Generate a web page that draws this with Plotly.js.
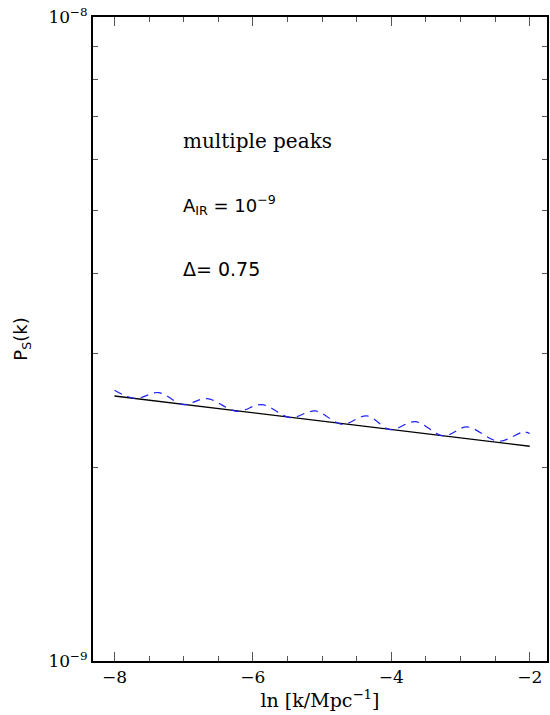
<!DOCTYPE html>
<html>
<head>
<meta charset="utf-8">
<script src="https://cdn.plot.ly/plotly-3.0.1.min.js"></script>
<style>html,body{margin:0;padding:0;background:#fff;}#chart{width:550px;height:715px;}</style>
</head>
<body>
<div id="chart"></div>
<script>
// Smooth power-law spectrum (solid black)
const lnkSmooth = [-8.0, -2.0];
const psSmooth = [2.579e-9, 2.155e-9];

// Spectrum with multiple peaks (dashed blue), read at peaks and dips
const lnkPeaks = [-8.0, -7.70, -7.364, -7.003, -6.664, -6.230, -5.869, -5.460, -5.098,
                  -4.712, -4.351, -4.014, -3.653, -3.244, -2.905, -2.448, -2.087, -2.0];
const psPeaks = [2.632e-9, 2.556e-9, 2.611e-9, 2.501e-9, 2.556e-9, 2.442e-9, 2.501e-9, 2.388e-9, 2.445e-9,
                 2.331e-9, 2.402e-9, 2.287e-9, 2.353e-9, 2.236e-9, 2.309e-9, 2.194e-9, 2.268e-9, 2.255e-9];

// Y tick positions and labels
const yTickVals = [1e-9, 2e-9, 3e-9, 4e-9, 5e-9, 6e-9, 7e-9, 8e-9, 9e-9, 1e-8];
const yTickText = ['10<sup>\u22129</sup>', '', '', '', '', '', '', '', '', '10<sup>\u22128</sup>'];

// Annotation texts
const labelLines = ['multiple peaks', 'A<sub>IR</sub>\u00a0=\u00a010<sup>\u22129</sup>', '\u0394=\u00a00.75'];

const serif = 'DejaVu Serif, Liberation Serif, serif';
const sans = 'DejaVu Sans, Liberation Sans, sans-serif';

const traces = [
  {x: lnkSmooth, y: psSmooth, mode: 'lines', line: {color: '#000000', width: 1.4}, hoverinfo: 'skip'},
  {x: lnkPeaks, y: psPeaks, mode: 'lines', line: {color: '#2020ff', width: 1.2, dash: '8px,6px', shape: 'spline', smoothing: 1}, hoverinfo: 'skip'}
];

const layout = {
  width: 550, height: 715,
  margin: {l: 93, r: 3, t: 17, b: 54},
  paper_bgcolor: '#ffffff', plot_bgcolor: '#ffffff',
  showlegend: false,
  font: {family: serif, size: 17, color: '#000'},
  xaxis: {
    range: [-8.31, -1.75],
    tickvals: [-8, -6, -4, -2],
    ticktext: ['\u22128', '\u22126', '\u22124', '\u22122'],
    ticks: 'inside', ticklen: 9, tickwidth: 1, tickcolor: '#555',
    minor: {dtick: 0.5, tick0: 0, ticks: 'inside', ticklen: 5, tickwidth: 1, tickcolor: '#555'},
    showline: true, linecolor: '#000', linewidth: 2, mirror: 'ticks',
    showgrid: false, zeroline: false,
    tickfont: {family: serif, size: 17},
    title: {text: 'ln [k/Mpc<sup>\u22121</sup>]', font: {family: serif, size: 19}, standoff: 7}
  },
  yaxis: {
    type: 'log',
    range: [-9, -8],
    tickvals: yTickVals, ticktext: yTickText,
    ticks: 'inside', ticklen: 5, tickwidth: 1, tickcolor: '#555',
    showline: true, linecolor: '#000', linewidth: 2, mirror: 'ticks',
    showgrid: false, zeroline: false,
    tickfont: {family: serif, size: 17},
    title: {text: 'P<sub>S</sub>(k)', font: {family: sans, size: 18}, standoff: 16}
  },
  annotations: [
    {xref: 'x', yref: 'paper', x: -7.04, y: 0.807, xanchor: 'left', yanchor: 'middle', showarrow: false,
     text: labelLines[0], font: {family: serif, size: 20}},
    {xref: 'x', yref: 'paper', x: -7.04, y: 0.708, xanchor: 'left', yanchor: 'middle', showarrow: false,
     text: labelLines[1], font: {family: sans, size: 18}},
    {xref: 'x', yref: 'paper', x: -7.04, y: 0.609, xanchor: 'left', yanchor: 'middle', showarrow: false,
     text: labelLines[2], font: {family: sans, size: 19}}
  ]
};

Plotly.newPlot('chart', traces, layout, {staticPlot: true, displayModeBar: false});
</script>
</body>
</html>
